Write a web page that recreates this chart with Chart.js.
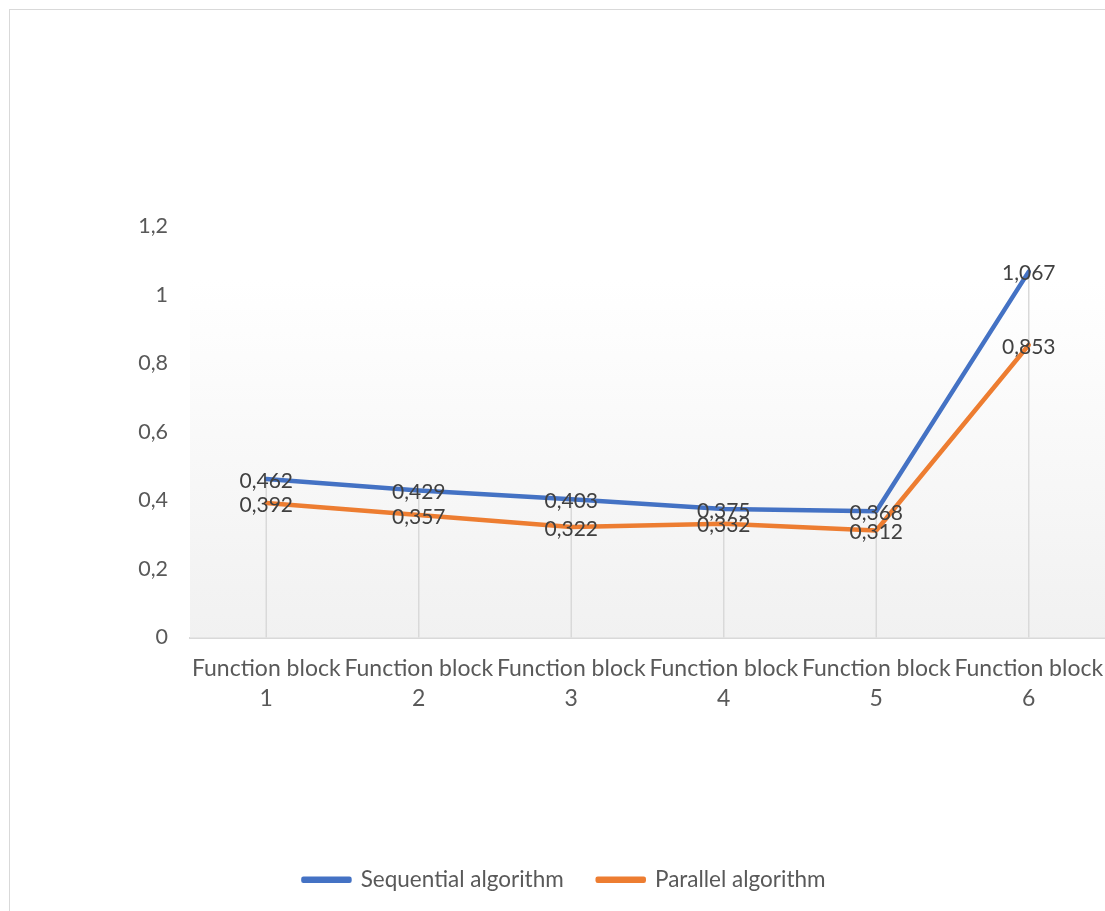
<!DOCTYPE html>
<html>
<head>
<meta charset="utf-8">
<script src="https://cdn.jsdelivr.net/npm/chart.js@4.4.1/dist/chart.umd.min.js"></script>
<style>
  html, body { margin: 0; padding: 0; background: #fff; overflow: hidden; }
  #wrap { position: relative; width: 1105px; height: 911px; }
  #frame { position: absolute; left: 9px; top: 9px; width: 1200px; height: 1000px;
           border: 1px solid #d9d9d9; box-sizing: border-box; pointer-events: none; }
</style>
</head>
<body>
<div id="wrap">
  <canvas id="grafico" width="1105" height="911"></canvas>
  <div id="frame"></div>
</div>
<script>
// dados
const categorias = [
    ["Function block", "1"], ["Function block", "2"], ["Function block", "3"],
    ["Function block", "4"], ["Function block", "5"], ["Function block", "6"]
];
const sequencial = [0.462, 0.429, 0.403, 0.375, 0.368, 1.067];
const paralelo = [0.392, 0.357, 0.322, 0.332, 0.312, 0.853];
const nomesSeries = ["Sequential algorithm", "Parallel algorithm"];
const coresSeries = ["#4472C4", "#ED7D31"];

const FONTE = "Lato, sans-serif";

function virgula(v, casas) {
    return Number(v.toFixed(casas)).toString().replace('.', ',');
}

// fundo em gradiente da área do gráfico + linhas de queda
const pluginFundo = {
    id: 'fundo',
    beforeDatasetsDraw(chart) {
        const { ctx, chartArea: a, scales: { x, y } } = chart;
        ctx.save();
        const g = ctx.createLinearGradient(0, a.top, 0, a.bottom);
        g.addColorStop(0, '#ffffff');
        g.addColorStop(0.13, '#ffffff');
        g.addColorStop(1, '#f1f1f1');
        ctx.fillStyle = g;
        ctx.fillRect(a.left, a.top, a.right - a.left, a.bottom - a.top);

        ctx.strokeStyle = '#d9d9d9';
        ctx.lineWidth = 1.5;
        sequencial.forEach((v, i) => {
            const topo = Math.max(v, paralelo[i]);
            const px = x.getPixelForValue(i);
            ctx.beginPath();
            ctx.moveTo(px, y.getPixelForValue(topo));
            ctx.lineTo(px, y.getPixelForValue(0));
            ctx.stroke();
        });
        ctx.restore();
    }
};

// rótulos de dados centrados nos pontos
const pluginRotulos = {
    id: 'rotulos',
    afterDatasetsDraw(chart) {
        const { ctx } = chart;
        ctx.save();
        ctx.font = "21px " + FONTE;
        ctx.fillStyle = '#404040';
        ctx.textAlign = 'center';
        ctx.textBaseline = 'middle';
        chart.data.datasets.forEach((ds, di) => {
            chart.getDatasetMeta(di).data.forEach((pt, i) => {
                ctx.fillText(ds.data[i].toFixed(3).replace('.', ','), pt.x, pt.y + 2);
            });
        });
        ctx.restore();
    }
};

const ctx = document.getElementById('grafico').getContext('2d');
new Chart(ctx, {
    type: 'line',
    data: {
        labels: categorias,
        datasets: [
            { label: nomesSeries[0], data: sequencial, borderColor: coresSeries[0], backgroundColor: coresSeries[0],
              borderWidth: 4.5, pointRadius: 0, tension: 0, borderCapStyle: 'round', borderJoinStyle: 'round' },
            { label: nomesSeries[1], data: paralelo, borderColor: coresSeries[1], backgroundColor: coresSeries[1],
              borderWidth: 4.5, pointRadius: 0, tension: 0, borderCapStyle: 'round', borderJoinStyle: 'round' }
        ]
    },
    options: {
        responsive: false,
        animation: false,
        layout: { padding: { top: 226, left: 24, right: 0, bottom: 10 } },
        plugins: {
            legend: {
                position: 'bottom',
                labels: {
                    boxWidth: 46, boxHeight: 2, padding: 34,
                    color: '#595959', font: { family: FONTE, size: 22.5 }
                }
            },
            tooltip: { enabled: false }
        },
        scales: {
            x: {
                offset: true,
                grid: { display: false, drawTicks: false },
                border: { display: true, color: '#d9d9d9', width: 2 },
                ticks: { color: '#595959', padding: 16, maxRotation: 0, autoSkip: false,
                         font: { family: FONTE, size: 23, lineHeight: '30px' } },
                afterFit(axis) {
                    axis.height = 197;
                    axis.paddingLeft = 0;
                    axis.paddingRight = 0;
                }
            },
            y: {
                min: 0, max: 1.2,
                grid: { display: false, drawTicks: false },
                border: { display: false },
                ticks: { stepSize: 0.2, color: '#595959', padding: 22,
                         font: { family: FONTE, size: 21.5 },
                         callback: v => virgula(v, 1) },
                afterFit(axis) {
                    axis.width = 166;
                    axis.paddingTop = 0;
                    axis.paddingBottom = 0;
                }
            }
        }
    },
    plugins: [pluginFundo, pluginRotulos]
});
</script>
</body>
</html>
